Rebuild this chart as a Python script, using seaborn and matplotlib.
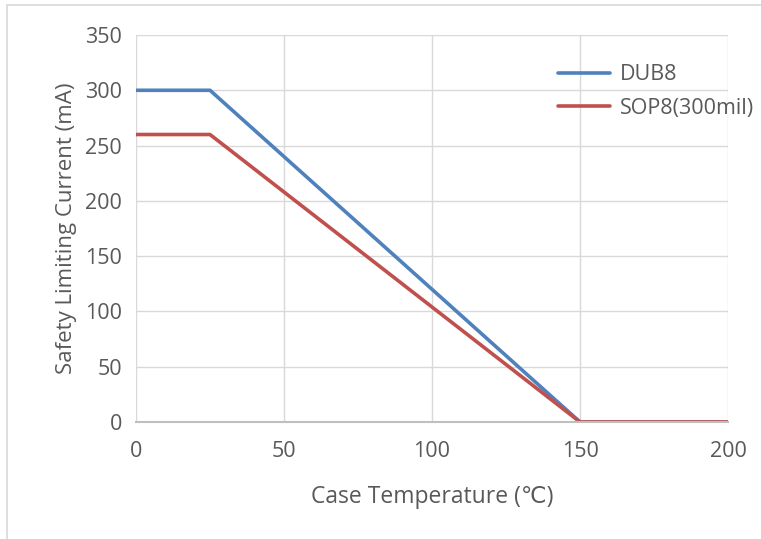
import matplotlib
matplotlib.use("Agg")
import matplotlib.pyplot as plt
import seaborn as sns
import pandas as pd
from matplotlib.patches import Rectangle

temps = [0, 25, 150, 200]
dub8 = [300, 300, 0, 0]
sop8 = [260, 260, 0, 0]
series_names = ["DUB8", "SOP8(300mil)"]
xticks = [0, 50, 100, 150, 200]
yticks = [0, 50, 100, 150, 200, 250, 300, 350]

df = pd.DataFrame({
    "temp": temps * 2,
    "current": dub8 + sop8,
    "series": [series_names[0]] * len(temps) + [series_names[1]] * len(temps),
})

sns.set_theme(style="white")
plt.rcParams['font.family'] = ['Open Sans', 'DejaVu Sans']

fig = plt.figure(figsize=(7.61, 5.39), dpi=100)
ax = fig.add_axes([136/761, 1 - 422/539, (728-136)/761, (422-35)/539])

sns.lineplot(data=df, x="temp", y="current", hue="series",
             palette=["#4F81BD", "#C0504D"], linewidth=2.6, ax=ax)

ax.set_xlim(0, 200)
ax.set_ylim(0, 350)
ax.set_xticks(xticks)
ax.set_yticks(yticks)
ax.grid(True, color="#d9d9d9", linewidth=1)
ax.set_axisbelow(True)
for s in ["top", "right"]:
    ax.spines[s].set_visible(False)
ax.spines["left"].set_visible(False)
ax.spines["bottom"].set_color("#bfbfbf")
ax.spines["bottom"].set_linewidth(1.5)
ax.tick_params(axis="x", length=0, labelsize=15.5, colors="#595959", pad=14)
ax.tick_params(axis="y", length=0, labelsize=15.5, colors="#595959", pad=10)
ax.set_xlabel("Case Temperature (℃)", fontsize=16.5, color="#595959", labelpad=16)
ax.set_ylabel("Safety Limiting Current (mA)", fontsize=16, color="#595959", labelpad=6)

leg = ax.legend(loc="upper left", bbox_to_anchor=(0.68, 0.975), frameon=False,
                fontsize=15.5, handlelength=2.4, handletextpad=0.5, labelspacing=0.6)
for t in leg.get_texts():
    t.set_color("#595959")

fig.patches.append(Rectangle((7/761, -0.02), 1.2, 1 - 5/539 + 0.02, transform=fig.transFigure,
                             fill=False, edgecolor="#d9d9d9", linewidth=1.2))

fig.savefig("out.png", dpi=100)
